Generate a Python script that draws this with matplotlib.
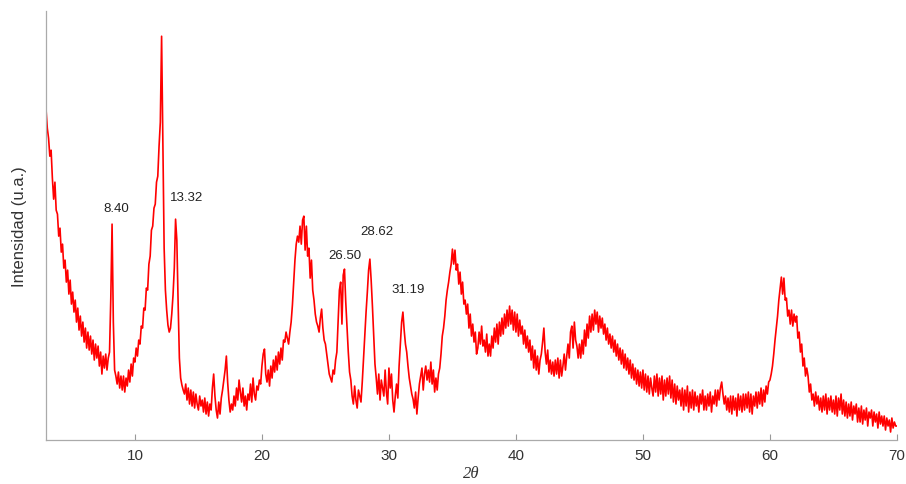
import numpy as np
import matplotlib
matplotlib.use("Agg")
import matplotlib.pyplot as plt

# 2-theta grid: 3.0 .. 70.0 in 0.1 deg steps (one row per degree)
two_theta = np.round(np.arange(3.0, 70.05, 0.1), 1)

# intensity (arbitrary units)
rows = [
    [331, 312, 302, 284, 290, 262, 241, 258, 230, 226],   # 3
    [204, 212, 188, 196, 172, 180, 158, 170, 146, 160],   # 4
    [136, 148, 128, 140, 118, 132, 110, 124, 104, 118],   # 5
    [98, 112, 92, 108, 90, 104, 86, 100, 80, 96],         # 6
    [82, 94, 74, 88, 66, 84, 72, 86, 70, 82],             # 7
    [88, 142, 216, 118, 70, 64, 56, 68, 52, 64],          # 8
    [50, 64, 48, 62, 54, 70, 58, 76, 64, 82],             # 9
    [78, 92, 84, 100, 96, 114, 112, 132, 130, 152],       # 10
    [150, 176, 184, 210, 214, 232, 236, 258, 264, 294],   # 11
    [318, 404, 300, 192, 150, 130, 115, 108, 112, 126],   # 12
    [145, 172, 221, 200, 138, 82, 62, 55, 50, 46],        # 13
    [56, 40, 52, 36, 50, 34, 48, 32, 46, 36],             # 14
    [30, 44, 34, 40, 28, 42, 26, 38, 24, 36],             # 15
    [30, 52, 66, 44, 30, 22, 38, 26, 42, 50],             # 16
    [60, 70, 84, 58, 40, 28, 36, 30, 44, 34],             # 17
    [52, 40, 60, 48, 38, 52, 34, 44, 30, 46],             # 18
    [40, 56, 38, 62, 46, 40, 54, 50, 60, 56],             # 19
    [74, 86, 91, 66, 58, 70, 54, 74, 62, 80],             # 20
    [68, 84, 70, 88, 76, 92, 80, 100, 98, 108],           # 21
    [102, 96, 108, 118, 135, 158, 180, 196, 204, 198],    # 22
    [214, 196, 220, 224, 190, 214, 184, 192, 162, 180],   # 23
    [150, 140, 126, 118, 114, 108, 122, 131, 112, 100],   # 24
    [96, 86, 76, 66, 62, 58, 70, 66, 80, 88],             # 25
    [118, 150, 158, 116, 165, 171, 138, 112, 88, 68],     # 26
    [60, 44, 36, 54, 40, 32, 50, 44, 38, 58],             # 27
    [82, 104, 128, 148, 170, 181, 160, 134, 104, 76],     # 28
    [62, 46, 66, 40, 60, 52, 44, 70, 48, 36],             # 29
    [72, 52, 66, 40, 28, 44, 56, 42, 74, 96],             # 30
    [118, 128, 110, 96, 88, 74, 62, 54, 46, 41],          # 31
    [32, 48, 26, 42, 56, 64, 72, 50, 66, 74],             # 32
    [60, 70, 58, 78, 56, 70, 48, 62, 50, 66],             # 33
    [72, 86, 104, 112, 124, 140, 150, 158, 168, 176],     # 34
    [191, 176, 190, 170, 176, 156, 168, 146, 158, 136],   # 35
    [140, 126, 136, 112, 126, 104, 116, 98, 108, 86],     # 36
    [92, 108, 96, 114, 94, 100, 88, 106, 84, 96],         # 37
    [84, 104, 92, 112, 98, 116, 96, 118, 104, 122],       # 38
    [106, 126, 112, 130, 114, 134, 116, 130, 110, 128],   # 39
    [108, 126, 104, 120, 106, 114, 96, 110, 92, 104],     # 40
    [88, 100, 80, 94, 72, 90, 70, 84, 66, 80],            # 41
    [86, 98, 112, 88, 76, 90, 68, 80, 66, 78],            # 42
    [64, 80, 66, 82, 62, 80, 64, 74, 86, 70],             # 43
    [84, 96, 82, 108, 114, 92, 118, 100, 94, 82],         # 44
    [96, 82, 100, 86, 110, 94, 116, 102, 124, 108],       # 45
    [126, 110, 130, 116, 128, 108, 124, 112, 122, 106],   # 46
    [116, 100, 112, 96, 106, 92, 104, 88, 100, 84],       # 47
    [96, 80, 92, 76, 90, 72, 86, 70, 82, 66],             # 48
    [80, 62, 76, 60, 72, 56, 70, 54, 68, 52],             # 49
    [70, 50, 66, 48, 64, 46, 62, 52, 44, 64],             # 50
    [48, 66, 44, 62, 46, 64, 40, 60, 44, 62],             # 51
    [46, 64, 42, 60, 38, 56, 36, 54, 40, 50],             # 52
    [34, 52, 30, 50, 34, 54, 28, 48, 32, 50],             # 53
    [30, 48, 34, 44, 28, 46, 36, 50, 30, 44],             # 54
    [30, 46, 34, 48, 28, 44, 36, 50, 34, 50],             # 55
    [40, 52, 58, 46, 36, 44, 30, 42, 28, 44],             # 56
    [26, 44, 30, 42, 24, 46, 30, 44, 28, 46],             # 57
    [30, 46, 32, 48, 28, 46, 26, 44, 34, 48],             # 58
    [32, 48, 36, 52, 34, 50, 38, 54, 46, 58],             # 59
    [60, 66, 74, 86, 100, 112, 124, 140, 152, 163],       # 60
    [146, 162, 140, 142, 124, 130, 116, 130, 114, 126],   # 61
    [118, 124, 102, 108, 88, 96, 74, 82, 64, 72],         # 62
    [64, 48, 56, 40, 46, 34, 48, 36, 44, 30],             # 63
    [42, 28, 44, 30, 46, 26, 42, 30, 44, 28],             # 64
    [40, 26, 44, 24, 42, 30, 46, 26, 40, 24],             # 65
    [38, 22, 36, 24, 38, 20, 34, 26, 36, 18],             # 66
    [32, 18, 34, 16, 30, 20, 32, 14, 28, 22],             # 67
    [30, 14, 28, 18, 26, 12, 28, 16, 24, 14],             # 68
    [24, 10, 22, 14, 20, 8, 22, 12, 18, 14],              # 69
    [14],                                                 # 70
]
intensity = np.array([v for r in rows for v in r], dtype=float)

peak_labels = ["8.40", "13.32", "26.50", "28.62", "31.19"]
label_x = [8.5, 14.1, 26.5, 29.05, 31.5]
label_y = [226, 237, 179, 203, 145]

fig = plt.figure(figsize=(9.06, 4.85), dpi=100)
ax = fig.add_axes([0.0508, 0.0907, 0.9392, 0.884])

ax.plot(two_theta, intensity, color="#ff0000", linewidth=1.2)

for txt, lx, ly in zip(peak_labels, label_x, label_y):
    ax.text(lx, ly, txt, ha="center", va="bottom", fontsize=9.5,
            family="Liberation Sans", color="#222222")

ax.set_xlim(3, 70)
ax.set_ylim(0, 429)
ax.set_xticks([10, 20, 30, 40, 50, 60, 70])
ax.set_yticks([])
ax.tick_params(axis="x", direction="in", length=4, width=0.8,
               colors="#999999", labelcolor="#333333", labelsize=11, pad=6)
for lbl in ax.get_xticklabels():
    lbl.set_family("Liberation Sans")

for side in ("top", "right"):
    ax.spines[side].set_visible(False)
for side in ("left", "bottom"):
    ax.spines[side].set_color("#aaaaaa")
    ax.spines[side].set_linewidth(0.9)

ax.set_xlabel("2θ", fontsize=12, family="Liberation Serif", style="italic",
              color="#333333", labelpad=2)
ax.set_ylabel("Intensidad (u.a.)", fontsize=12, family="Liberation Sans",
              color="#333333", labelpad=14)

fig.savefig("out.png", dpi=100)
